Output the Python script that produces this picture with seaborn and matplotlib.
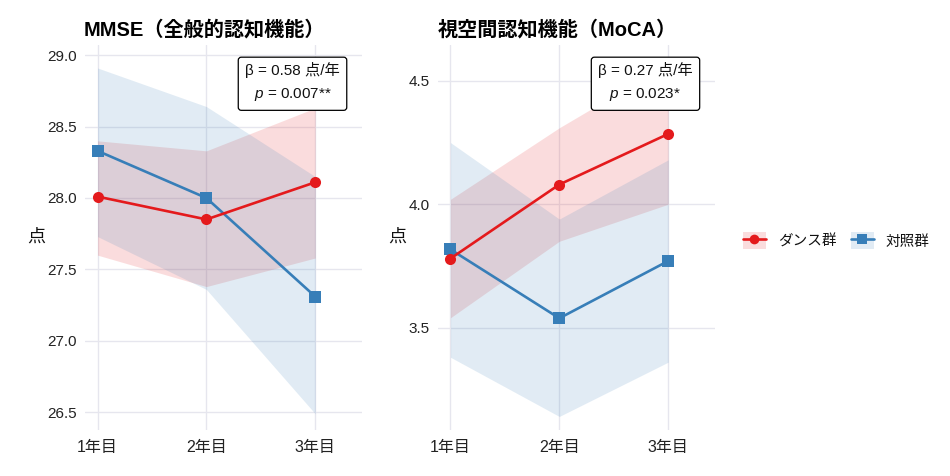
import pandas as pd
import matplotlib
matplotlib.use('Agg')
import matplotlib.pyplot as plt
import seaborn as sns
from matplotlib.lines import Line2D
from matplotlib.patches import Patch

# データ
years = ['1年目', '2年目', '3年目']
year_pos = [1, 2, 3]
groups = ['ダンス群', '対照群']

mmse_dance = [28.01, 27.85, 28.11]
mmse_dance_lo = [27.60, 27.38, 27.58]
mmse_dance_hi = [28.40, 28.33, 28.63]
mmse_ctrl = [28.33, 28.00, 27.31]
mmse_ctrl_lo = [27.73, 27.36, 26.49]
mmse_ctrl_hi = [28.91, 28.64, 28.15]

moca_dance = [3.78, 4.08, 4.285]
moca_dance_lo = [3.54, 3.85, 4.00]
moca_dance_hi = [4.02, 4.31, 4.57]
moca_ctrl = [3.817, 3.538, 3.77]
moca_ctrl_lo = [3.38, 3.14, 3.36]
moca_ctrl_hi = [4.25, 3.94, 4.18]

titles = ['MMSE（全般的認知機能）', '視空間認知機能（MoCA）']
stats = ['β = 0.58 点/年\n$p$ = 0.007**', 'β = 0.27 点/年\n$p$ = 0.023*']
ylims = [(26.376, 29.07), (3.085, 4.645)]
yticks = [[26.5, 27.0, 27.5, 28.0, 28.5, 29.0], [3.5, 4.0, 4.5]]

colors = {'ダンス群': '#E41A1C', '対照群': '#377EB8'}
markers = {'ダンス群': 'o', '対照群': 's'}

sns.set_theme(style='whitegrid')
plt.rcParams['font.family'] = ['Liberation Sans', 'Noto Sans CJK JP', 'DejaVu Sans']
plt.rcParams['mathtext.fontset'] = 'custom'
plt.rcParams['mathtext.it'] = 'Liberation Sans:italic'
plt.rcParams['mathtext.rm'] = 'Liberation Sans'
plt.rcParams['text.color'] = '#111111'

fig = plt.figure(figsize=(9.5, 4.76), dpi=100)
ax1 = fig.add_axes([0.0895, 0.0966, 0.2916, 0.8086])
ax2 = fig.add_axes([0.461, 0.0966, 0.2916, 0.8086])

panels = [
    (ax1, mmse_dance, mmse_dance_lo, mmse_dance_hi, mmse_ctrl, mmse_ctrl_lo, mmse_ctrl_hi),
    (ax2, moca_dance, moca_dance_lo, moca_dance_hi, moca_ctrl, moca_ctrl_lo, moca_ctrl_hi),
]

for i, (ax, d, dlo, dhi, c, clo, chi) in enumerate(panels):
    df = pd.DataFrame({
        'year': year_pos * 2,
        'score': d + c,
        'group': [groups[0]] * 3 + [groups[1]] * 3,
    })
    ax.fill_between(year_pos, dlo, dhi, color=colors['ダンス群'], alpha=0.15, lw=0, zorder=1)
    ax.fill_between(year_pos, clo, chi, color=colors['対照群'], alpha=0.15, lw=0, zorder=1)
    sns.lineplot(data=df, x='year', y='score', hue='group', style='group',
                 hue_order=groups[::-1], style_order=groups[::-1],
                 palette=colors, markers=markers, dashes=False,
                 linewidth=1.9, markersize=8, markeredgewidth=0,
                 legend=False, ax=ax, zorder=3)
    ax.set_xlim(0.885, 3.43)
    ax.set_ylim(*ylims[i])
    ax.set_xticks(year_pos)
    ax.set_xticklabels(years)
    ax.set_yticks(yticks[i])
    ax.set_yticklabels([f'{t:.1f}' for t in yticks[i]])
    ax.set_xlabel('')
    ax.set_ylabel('点', rotation=0, fontsize=13, labelpad=8, va='center', color='#111111')
    ax.set_title(titles[i], fontsize=14.5, fontweight='bold', x=0.43, pad=7, color='black')
    ax.tick_params(axis='y', labelsize=11, colors='#222222', length=0, pad=6)
    ax.tick_params(axis='x', labelsize=11.5, colors='#222222', length=0, pad=7)
    ax.grid(True, color='#E6E6EE', linewidth=1)
    for s in ax.spines.values():
        s.set_visible(False)
    ax.set_facecolor('white')
    ax.text(0.92, 0.956, stats[i], transform=ax.transAxes, ha='right', va='top',
            fontsize=11, linespacing=1.7, multialignment='center', zorder=5,
            bbox=dict(boxstyle='round,pad=0.45,rounding_size=0.2', fc='white', ec='black', lw=0.9))

handles = []
for g in groups:
    handles.append((Patch(facecolor=colors[g], alpha=0.15, edgecolor='none'),
                    Line2D([], [], color=colors[g], marker=markers[g], lw=1.9, markersize=7,
                           markeredgewidth=0)))
fig.legend(handles, groups, loc='center left', bbox_to_anchor=(0.768, 0.494), ncol=2,
           frameon=False, fontsize=10.5, handlelength=1.6, handleheight=1.4,
           handletextpad=0.8, columnspacing=1.0)

fig.savefig('out.png', dpi=100, facecolor='white')
